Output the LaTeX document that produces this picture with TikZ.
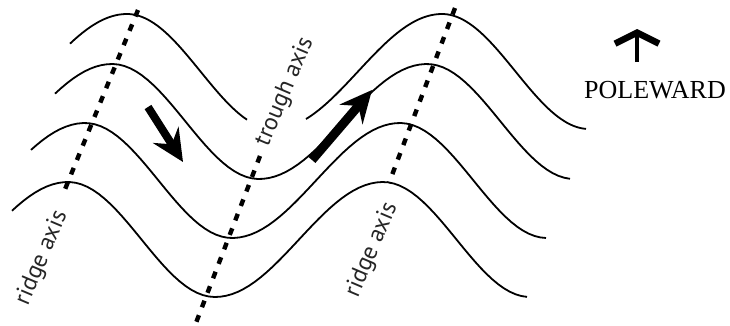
\documentclass[tikz,border=0pt]{standalone}
\usepackage{fontspec}
\setmainfont{Liberation Serif}
\newfontfamily\axisfont{PT Sans}
\usetikzlibrary{arrows.meta}

\begin{document}
\begin{tikzpicture}[x=1pt, y=-1pt,
    wave/.style={line width=1.8pt},
    axisline/.style={line width=4.4pt, dash pattern=on 7pt off 8.5pt},
    flow/.style={line width=8pt, -{Stealth[length=32pt, width=30pt, inset=11pt]}},
    axislabel/.style={font=\axisfont\fontsize{24}{27}\selectfont, text=black!85, rotate=67, inner sep=0pt},
    declare function={
      ph(\u)=(\u<0) ? (\u/168*180) : ((\u<147) ? (\u/147*180) : ((\u<315) ? (180+(\u-147)/168*180) : (360+(\u-315)/147*180)));
      wy(\p,\r,\s)=\s+57.5*(1-cos(ph(\p-\r)));
    }]
    \useasboundingbox (0,0) rectangle (730,325);
    \foreach \r/\s/\a/\b in {127/14/70/247, 127/14/306/586, 112/64/55/570, 85/123/31/546, 68/182/12/527}
      \draw[wave] plot[domain=\a:\b, samples=90, variable=\t] (\t, {wy(\t,\r,\s)});
    \coordinate (ridgeAtop) at (138,10);
    \coordinate (ridgeAbot) at (63.5,193);
    \coordinate (troughtop) at (260,156);
    \coordinate (troughbot) at (194,328);
    \coordinate (ridgeBtop) at (455,8);
    \coordinate (ridgeBbot) at (389,183);
    \draw[axisline] (ridgeAtop) -- (ridgeAbot);
    \draw[axisline] (troughtop) -- (troughbot);
    \draw[axisline] (ridgeBtop) -- (ridgeBbot);
    \node[axislabel] (ridgeAlab) at (42,258) {ridge axis};
    \node[axislabel] (troughlab) at (285,92) {trough axis};
    \node[axislabel] (ridgeBlab) at (372,250) {ridge axis};
    \coordinate (downtail) at (148,107);
    \coordinate (downtip) at (183,162);
    \coordinate (uptail) at (312,160);
    \coordinate (uptip) at (372,90);
    \draw[flow] (downtail) -- (downtip);
    \draw[flow, line width=9pt] (uptail) -- (uptip);
    \node[font=\fontsize{26}{30}\selectfont, inner sep=0pt] (pole) at (655,90) {POLEWARD};
    \coordinate (polebase) at (637,62);
    \coordinate (poletip) at (637,29);
    \draw[line width=4.5pt, -{Straight Barb[length=11pt, width=44pt, line width=6.5pt]}] (polebase) -- (poletip);
\end{tikzpicture}
\end{document}
